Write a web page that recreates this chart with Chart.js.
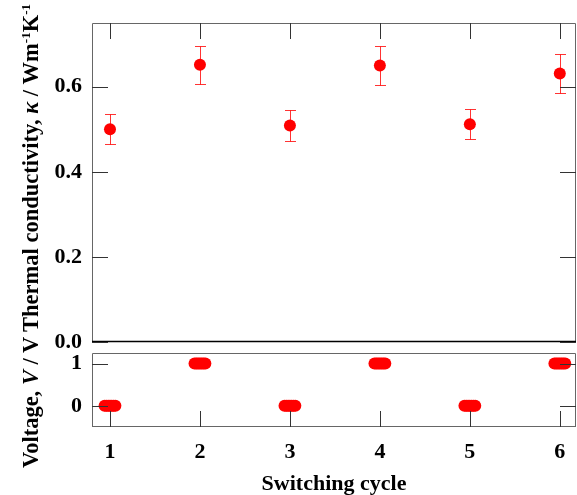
<!DOCTYPE html>
<html>
<head>
<meta charset="utf-8">
<script src="https://cdn.jsdelivr.net/npm/chart.js@4.4.1/dist/chart.umd.min.js"></script>
<style>
  body { margin: 0; background: #fff; }
  #wrap { position: relative; width: 577px; height: 495px; overflow: hidden; }
  canvas { position: absolute; left: 0; }
  #ytitle {
    position: absolute; left: -209px; top: 223px; width: 480px; height: 26px;
    line-height: 26px; text-align: center; white-space: nowrap;
    font: bold 22.5px "Liberation Serif", serif; color: #000;
    transform: rotate(-90deg);
  }
  #ytitle sup { font-size: 13px; vertical-align: 8px; line-height: 0; }
</style>
</head>
<body>
<div id="wrap">
  <canvas id="top" width="577" height="350" style="top:0"></canvas>
  <canvas id="bot" width="577" height="147" style="top:348px"></canvas>
  <div id="ytitle">Voltage, <i>V</i> / V Thermal conductivity, <i>κ</i> / Wm<sup>-1</sup>K<sup>-1</sup></div>
</div>
<script>
// thermal conductivity per switching cycle
const cycles = [1, 2, 3, 4, 5, 6]
const kappa = [0.500, 0.652, 0.509, 0.650, 0.512, 0.631]
const kappaErr = [0.035, 0.045, 0.036, 0.045, 0.035, 0.045]

// applied voltage samples (dense points around each cycle)
const voltCycle = [
  0.94, 0.96, 0.98, 1.00, 1.02, 1.04, 1.06,
  1.94, 1.96, 1.98, 2.00, 2.02, 2.04, 2.06,
  2.94, 2.96, 2.98, 3.00, 3.02, 3.04, 3.06,
  3.94, 3.96, 3.98, 4.00, 4.02, 4.04, 4.06,
  4.94, 4.96, 4.98, 5.00, 5.02, 5.04, 5.06,
  5.94, 5.96, 5.98, 6.00, 6.02, 6.04, 6.06,
]
const voltValue = [
  0, 0, 0, 0, 0, 0, 0,
  1, 1, 1, 1, 1, 1, 1,
  0, 0, 0, 0, 0, 0, 0,
  1, 1, 1, 1, 1, 1, 1,
  0, 0, 0, 0, 0, 0, 0,
  1, 1, 1, 1, 1, 1, 1,
]

const kappaTicks = [0, 0.2, 0.4, 0.6]
const voltTicks = [0, 1]

const serif = { family: '"Liberation Serif", serif', size: 22, weight: 'bold' }
const FRAME = '#666'
const TICK = 16

// 固定軸寬/高，並取消標籤溢出造成的額外留白
function fixSize(size) {
  return s => {
    if (s.isHorizontal()) s.height = size
    else s.width = size
    s.paddingTop = 0
    s.paddingBottom = 0
    s.paddingLeft = 0
    s.paddingRight = 0
  }
}

// frame + inward ticks
function framePlugin(cfg) {
  return {
    id: 'frame',
    afterDraw(chart) {
      const { ctx, chartArea: a, scales } = chart
      ctx.save()
      ctx.lineWidth = 1
      ctx.strokeStyle = FRAME
      ctx.beginPath()
      ctx.moveTo(a.left + 0.5, a.bottom); ctx.lineTo(a.left + 0.5, a.top + 0.5)
      ctx.lineTo(a.right - 0.5, a.top + 0.5); ctx.lineTo(a.right - 0.5, a.bottom)
      ctx.stroke()
      ctx.strokeStyle = cfg.bottomColor
      ctx.lineWidth = cfg.bottomWidth
      ctx.beginPath()
      ctx.moveTo(a.left, a.bottom - 0.5); ctx.lineTo(a.right, a.bottom - 0.5)
      ctx.stroke()
      ctx.strokeStyle = '#333'
      ctx.lineWidth = 1
      ctx.beginPath()
      cfg.yTicks.forEach(v => {
        const y = Math.round(scales.y.getPixelForValue(v)) + 0.5
        ctx.moveTo(a.left, y); ctx.lineTo(a.left + TICK, y)
        ctx.moveTo(a.right, y); ctx.lineTo(a.right - TICK, y)
      })
      cycles.forEach(c => {
        const x = Math.round(scales.x.getPixelForValue(c)) + 0.5
        if (cfg.xTicksTop) { ctx.moveTo(x, a.top); ctx.lineTo(x, a.top + TICK) }
        else { ctx.moveTo(x, a.bottom); ctx.lineTo(x, a.bottom - TICK) }
      })
      ctx.stroke()
      ctx.restore()
    },
  }
}

const errorBars = {
  id: 'errorBars',
  afterDatasetsDraw(chart) {
    const { ctx, scales } = chart
    ctx.save()
    ctx.strokeStyle = 'rgba(255, 0, 0, 0.8)'
    ctx.lineWidth = 1
    ctx.beginPath()
    cycles.forEach((c, i) => {
      const x = Math.round(scales.x.getPixelForValue(c)) + 0.5
      const y1 = Math.round(scales.y.getPixelForValue(kappa[i] + kappaErr[i])) + 0.5
      const y2 = Math.round(scales.y.getPixelForValue(kappa[i] - kappaErr[i])) + 0.5
      ctx.moveTo(x, y1); ctx.lineTo(x, y2)
      ctx.moveTo(x - 5.5, y1); ctx.lineTo(x + 5.5, y1)
      ctx.moveTo(x - 5.5, y2); ctx.lineTo(x + 5.5, y2)
    })
    ctx.stroke()
    ctx.restore()
  },
}

const xRange = { min: 0.8, max: 6.18 }
const noGrid = { display: false, drawTicks: false }

new Chart(document.getElementById('top'), {
  type: 'scatter',
  data: {
    datasets: [{
      data: cycles.map((c, i) => ({ x: c, y: kappa[i] })),
      backgroundColor: '#ff0000',
      borderColor: '#ff0000',
      borderWidth: 0,
      pointRadius: 6,
      pointHoverRadius: 6,
    }],
  },
  options: {
    responsive: false,
    animation: false,
    devicePixelRatio: 1,
    layout: { autoPadding: false, padding: { left: 0, top: 23, right: 1, bottom: 8 } },
    plugins: { legend: { display: false }, tooltip: { enabled: false } },
    scales: {
      x: { type: 'linear', min: xRange.min, max: xRange.max, display: false },
      y: {
        min: 0, max: 0.75,
        afterFit: fixSize(92),
        grid: noGrid,
        border: { display: false },
        afterBuildTicks(s) { s.ticks = kappaTicks.map(v => ({ value: v })) },
        ticks: { color: '#000', font: serif, padding: 10, callback: v => v.toFixed(1) },
      },
    },
  },
  plugins: [framePlugin({ yTicks: kappaTicks, xTicksTop: true, bottomColor: '#000', bottomWidth: 1.5 }), errorBars],
})

new Chart(document.getElementById('bot'), {
  type: 'scatter',
  data: {
    datasets: [{
      data: voltCycle.map((c, i) => ({ x: c, y: voltValue[i] })),
      backgroundColor: '#ff0000',
      borderColor: '#ff0000',
      borderWidth: 0,
      pointRadius: 6,
      pointHoverRadius: 6,
    }],
  },
  options: {
    responsive: false,
    animation: false,
    devicePixelRatio: 1,
    layout: { autoPadding: false, padding: { left: 0, top: 5, right: 1, bottom: 0 } },
    plugins: { legend: { display: false }, tooltip: { enabled: false } },
    scales: {
      x: {
        type: 'linear', min: xRange.min, max: xRange.max,
        afterFit: fixSize(68),
        grid: noGrid,
        border: { display: false },
        afterBuildTicks(s) { s.ticks = cycles.map(v => ({ value: v })) },
        ticks: { color: '#000', font: serif, padding: 12, maxRotation: 0 },
        title: { display: true, text: 'Switching cycle', color: '#000', font: serif, padding: { top: 0, bottom: -3 } },
      },
      y: {
        min: -0.5, max: 1.25,
        afterFit: fixSize(92),
        grid: noGrid,
        border: { display: false },
        afterBuildTicks(s) { s.ticks = voltTicks.map(v => ({ value: v })) },
        ticks: { color: '#000', font: serif, padding: 10 },
      },
    },
  },
  plugins: [framePlugin({ yTicks: voltTicks, xTicksTop: false, bottomColor: FRAME, bottomWidth: 1 })],
})
</script>
</body>
</html>
